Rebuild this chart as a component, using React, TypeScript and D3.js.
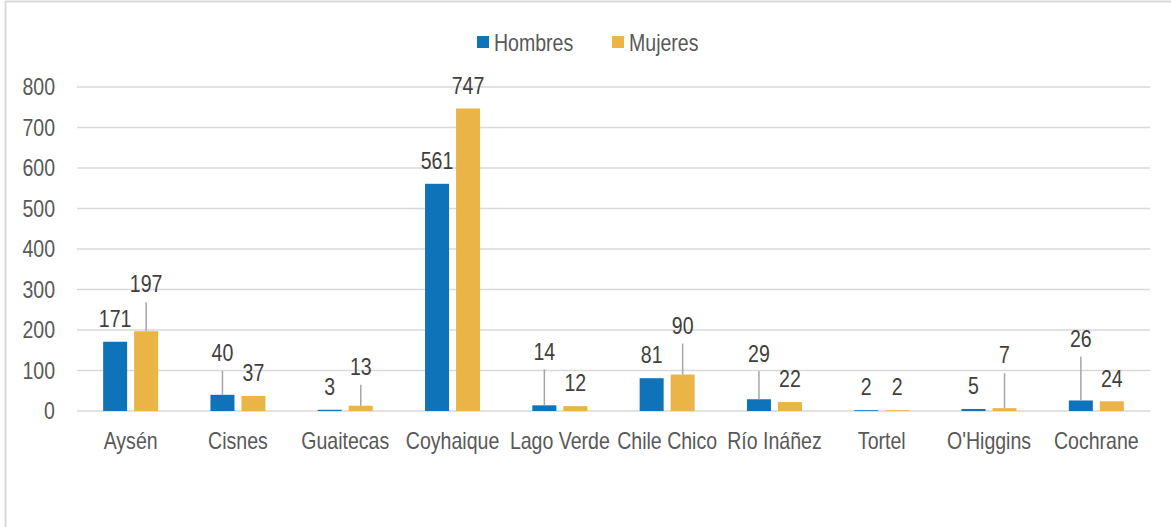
import React from "react";
import * as d3 from "d3";

const categories = ["Aysén", "Cisnes", "Guaitecas", "Coyhaique", "Lago Verde", "Chile Chico", "Río Ináñez", "Tortel", "O'Higgins", "Cochrane"];
const hombres = [171, 40, 3, 561, 14, 81, 29, 2, 5, 26];
const mujeres = [197, 37, 13, 747, 12, 90, 22, 2, 7, 24];
const yTicks = [0, 100, 200, 300, 400, 500, 600, 700, 800];
// extra lift (px) of data labels that were moved up with a leader line
const liftHombres = [0, 19, 0, 0, 31, 0, 23, 0, 0, 39];
const liftMujeres = [24, 0, 16, 0, 0, 26, 0, 0, 30, 0];

const W = 1171;
const H = 527;
const COLORS = { Hombres: "#0F73BA", Mujeres: "#EAB446" };
const FONT = "'Liberation Sans', Arial, sans-serif";
const FS = 23;
const SX = 0.85;

function Txt(props: { x: number; y: number; anchor?: string; fill: string; dy?: string; children: React.ReactNode }) {
  return (
    <text
      transform={`translate(${props.x},${props.y}) scale(${SX},1)`}
      dy={props.dy}
      textAnchor={props.anchor || "start"}
      fontSize={FS}
      fill={props.fill}
    >
      {props.children}
    </text>
  );
}

export default function App() {
  const x = d3.scaleBand<string>().domain(categories).range([77, 1150]).padding(0);
  const y = d3.scaleLinear().domain([0, 800]).range([411, 87]);
  const barW = 24;
  const off = 15.5;

  const series = [
    { name: "Hombres", values: hombres, lift: liftHombres, dx: -off, color: COLORS.Hombres },
    { name: "Mujeres", values: mujeres, lift: liftMujeres, dx: off, color: COLORS.Mujeres },
  ];

  return (
    <div style={{ position: "absolute", left: 0, top: 0 }}>
      <svg width={W} height={H} style={{ display: "block", fontFamily: FONT }}>
        <rect x={0} y={0} width={W} height={H} fill="#fff" />
        <line x1={5.5} x2={5.5} y1={1} y2={H} stroke="#d9d9d9" strokeWidth={2} />
        <line x1={5} x2={W} y1={1.5} y2={1.5} stroke="#d9d9d9" strokeWidth={2} />
        {yTicks.map((t) => (
          <g key={t}>
            <line x1={77} x2={1150} y1={y(t)} y2={y(t)} stroke="#d9d9d9" strokeWidth={1.5} />
            <Txt x={55} y={y(t)} dy="0.35em" anchor="end" fill="#595959">
              {t}
            </Txt>
          </g>
        ))}
        {series.map((s) =>
          s.values.map((v, i) => {
            const cx = (x(categories[i]) as number) + x.bandwidth() / 2 + s.dx;
            return (
              <rect key={s.name + i} x={cx - barW / 2} y={y(v)} width={barW} height={y(0) - y(v)} fill={s.color} />
            );
          })
        )}
        {series.map((s) =>
          s.values.map((v, i) => {
            const cx = (x(categories[i]) as number) + x.bandwidth() / 2 + s.dx;
            const top = y(v);
            const center = top - 23 - s.lift[i];
            return (
              <g key={"l" + s.name + i}>
                {s.lift[i] > 0 && (
                  <line x1={cx} x2={cx} y1={center + 18} y2={top} stroke="#a6a6a6" strokeWidth={1.5} />
                )}
                <Txt x={cx} y={center} dy="0.36em" anchor="middle" fill="#404040">
                  {v}
                </Txt>
              </g>
            );
          })
        )}
        {categories.map((c) => (
          <Txt key={c} x={(x(c) as number) + x.bandwidth() / 2} y={449} anchor="middle" fill="#595959">
            {c}
          </Txt>
        ))}
        <g>
          <rect x={477} y={36} width={12} height={12} fill={COLORS.Hombres} />
          <Txt x={494} y={51} fill="#595959">Hombres</Txt>
          <rect x={612} y={36} width={12} height={12} fill={COLORS.Mujeres} />
          <Txt x={629} y={51} fill="#595959">Mujeres</Txt>
        </g>
      </svg>
    </div>
  );
}
